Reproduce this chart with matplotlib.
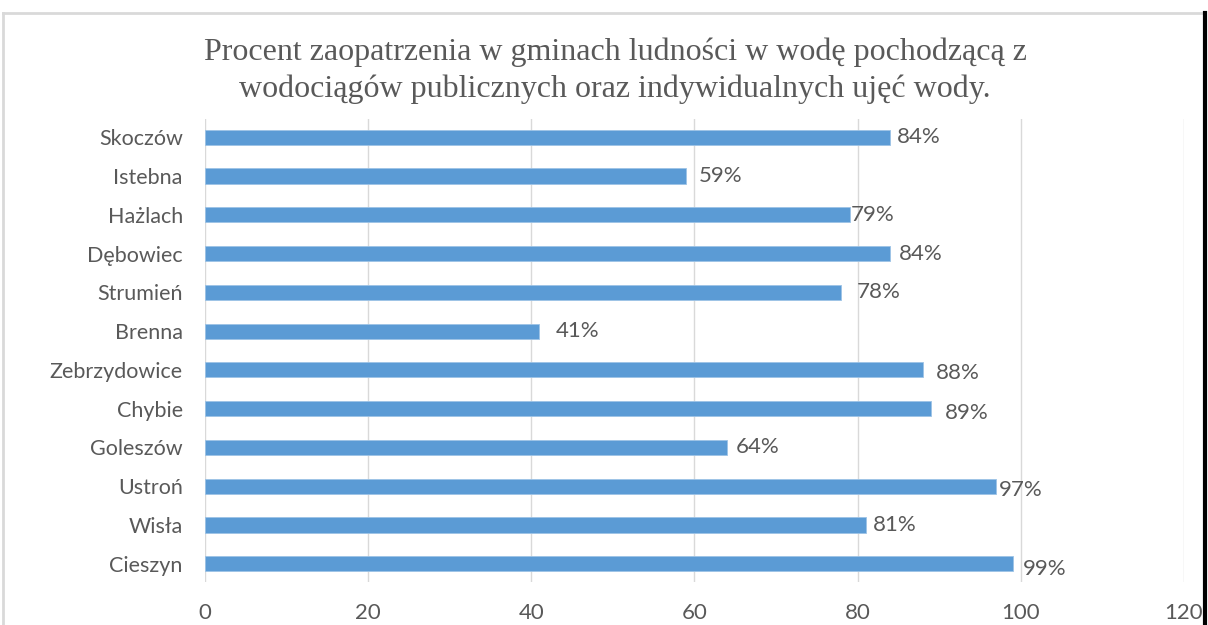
import matplotlib
matplotlib.use("Agg")
import matplotlib.pyplot as plt
from matplotlib.lines import Line2D

# Data (top to bottom as shown in the chart)
categories = ["Skoczów", "Istebna", "Hażlach", "Dębowiec", "Strumień", "Brenna",
              "Zebrzydowice", "Chybie", "Goleszów", "Ustroń", "Wisła", "Cieszyn"]
values = [84, 59, 79, 84, 78, 41, 88, 89, 64, 97, 81, 99]
labels = ["84%", "59%", "79%", "84%", "78%", "41%", "88%", "89%", "64%", "97%", "81%", "99%"]
xticks = [0, 20, 40, 60, 80, 100, 120]
title = ("Procent zaopatrzenia w gminach ludności w wodę pochodzącą z\n"
         "wodociągów publicznych oraz indywidualnych ujęć wody.")

# label offsets (points) mimicking the original data-label placement
label_dx = [5, 9, 1, 6, 11, 12, 9, 10, 6, 2, 5, 7]
label_dy = [0, 0, 0, 0, 0, 0, -2, -3, 0, -3, 0, -4]

grey = "#595959"
bar_color = "#5B9BD5"

fig = plt.figure(figsize=(12.08, 6.25), dpi=100)
ax = fig.add_axes([205/1208, 1-582/625, (1184-205)/1208, (582-119)/625])

n = len(categories)
ypos = list(range(n-1, -1, -1))
bars = ax.barh(ypos, values, height=0.39, color=bar_color, edgecolor="#9DC3E6",
               linewidth=0.6, zorder=3)

for b, lab, dx, dy in zip(bars, labels, label_dx, label_dy):
    ax.annotate(lab, (b.get_width(), b.get_y() + b.get_height()/2),
                xytext=(dx, dy), textcoords="offset points",
                ha="left", va="center", fontsize=16, color=grey, family="Lato")

ax.set_xlim(0, 120)
ax.set_ylim(-0.47, n - 0.53)
ax.set_xticks(xticks)
ax.set_xticklabels([str(t) for t in xticks])
ax.set_yticks(ypos)
ax.set_yticklabels(categories)
ax.grid(axis="x", color="#D9D9D9", linewidth=1.0, zorder=0)
ax.grid(axis="y", visible=False)
for s in ax.spines.values():
    s.set_visible(False)
ax.tick_params(axis="both", length=0, colors=grey)
ax.tick_params(axis="x", pad=15, labelsize=16)
ax.tick_params(axis="y", pad=16, labelsize=15.5)
for t in ax.get_xticklabels() + ax.get_yticklabels():
    t.set_family("Lato")

fig.text(615/1208, 1-71/625, title, ha="center", va="center",
         fontsize=23, family="Liberation Serif", color=grey, linespacing=1.32)

# chart-area border
fig.add_artist(Line2D([3/1208, 3/1208], [0, 1-13/625], transform=fig.transFigure,
                      color="#D9D9D9", linewidth=2))
fig.add_artist(Line2D([3/1208, 1205/1208], [1-13/625, 1-13/625], transform=fig.transFigure,
                      color="#D9D9D9", linewidth=2))
fig.add_artist(Line2D([1205/1208, 1205/1208], [0, 1-13/625], transform=fig.transFigure,
                      color="#000000", linewidth=3))

fig.savefig("out.png", dpi=100)
